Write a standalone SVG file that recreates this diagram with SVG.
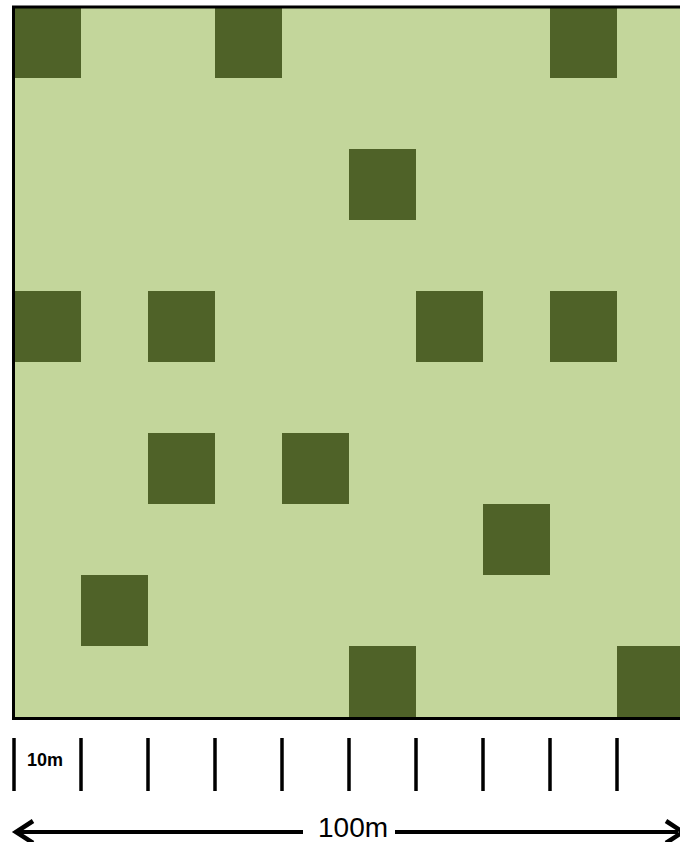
<svg xmlns="http://www.w3.org/2000/svg" width="680" height="842" viewBox="0 0 680 842">
  <style>
    .plot { fill: #4F6228; }
    .tick { stroke: #000; stroke-width: 3.5; stroke-linecap: butt; }
    .label { font-family: "Liberation Sans", Arial, sans-serif; fill: #000; }
  </style>
  <rect x="0" y="0" width="680" height="842" fill="#ffffff"/>
  <g id="field">
    <rect x="13.5" y="7" width="700" height="711.5" fill="#C3D69B"/>
  </g>
  <g id="plots">
    <rect class="plot" x="14" y="7" width="67" height="71"/>
    <rect class="plot" x="215" y="7" width="67" height="71"/>
    <rect class="plot" x="550" y="7" width="67" height="71"/>
    <rect class="plot" x="349" y="149" width="67" height="71"/>
    <rect class="plot" x="14" y="291" width="67" height="71"/>
    <rect class="plot" x="148" y="291" width="67" height="71"/>
    <rect class="plot" x="416" y="291" width="67" height="71"/>
    <rect class="plot" x="550" y="291" width="67" height="71"/>
    <rect class="plot" x="148" y="433" width="67" height="71"/>
    <rect class="plot" x="282" y="433" width="67" height="71"/>
    <rect class="plot" x="483" y="504" width="67" height="71"/>
    <rect class="plot" x="81" y="575" width="67" height="71"/>
    <rect class="plot" x="349" y="646" width="67" height="72"/>
    <rect class="plot" x="617" y="646" width="67" height="72"/>
  </g>
  <g id="border">
    <path d="M700 7 H13.5 V718.5 H700" fill="none" stroke="#000" stroke-width="3"/>
  </g>
  <g id="scale">
    <line class="tick" x1="14" y1="738" x2="14" y2="791"/>
    <line class="tick" x1="81" y1="738" x2="81" y2="791"/>
    <line class="tick" x1="148" y1="738" x2="148" y2="791"/>
    <line class="tick" x1="215" y1="738" x2="215" y2="791"/>
    <line class="tick" x1="282" y1="738" x2="282" y2="791"/>
    <line class="tick" x1="349" y1="738" x2="349" y2="791"/>
    <line class="tick" x1="416" y1="738" x2="416" y2="791"/>
    <line class="tick" x1="483" y1="738" x2="483" y2="791"/>
    <line class="tick" x1="550" y1="738" x2="550" y2="791"/>
    <line class="tick" x1="617" y1="738" x2="617" y2="791"/>
    <text class="label" x="27" y="766" font-size="18" font-weight="bold">10m</text>
  </g>
  <g id="connectors">
    <line x1="17" y1="832" x2="303" y2="832" stroke="#000" stroke-width="4"/>
    <line x1="395" y1="832" x2="678" y2="832" stroke="#000" stroke-width="4"/>
    <polyline points="33,821 16,832 33,843" fill="none" stroke="#000" stroke-width="4.5" stroke-linejoin="miter"/>
    <polyline points="666,821 683,832 666,843" fill="none" stroke="#000" stroke-width="4.5" stroke-linejoin="miter"/>
    <text class="label" x="318" y="837" font-size="28">100m</text>
  </g>
</svg>
